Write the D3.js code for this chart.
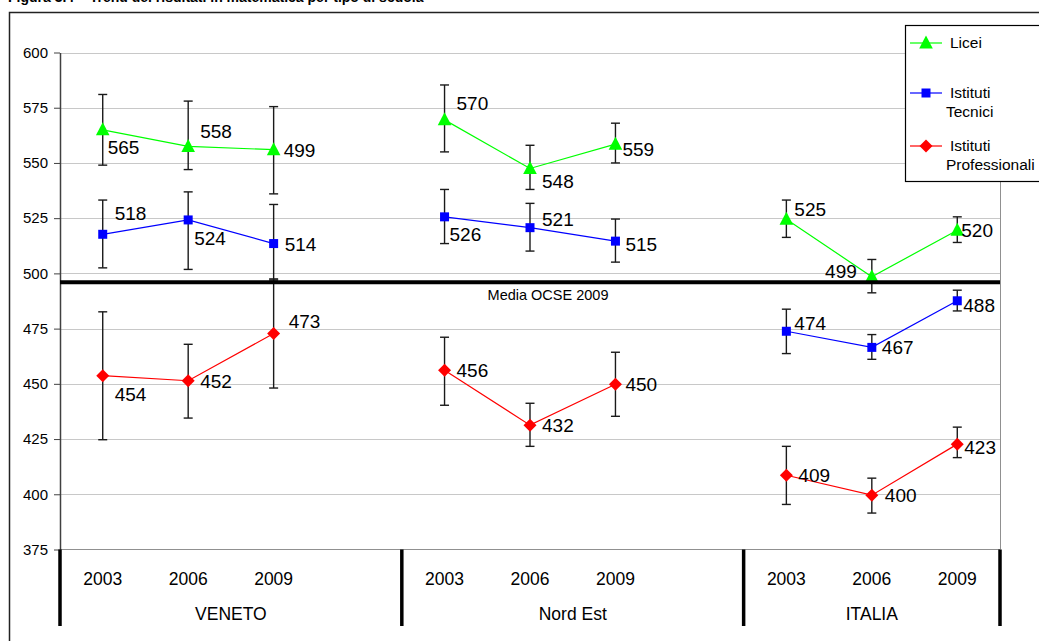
<!DOCTYPE html>
<html><head><meta charset="utf-8">
<script src="https://cdn.jsdelivr.net/npm/d3@7"></script>
<style>body{margin:0;background:#fff;} svg{display:block;font-family:Arial,"Liberation Sans",sans-serif;}</style>
</head><body><svg id="c" width="1039" height="641"></svg>
<script>
// ---------- data ----------
const groups = ["VENETO", "Nord Est", "ITALIA"];
const years = ["2003", "2006", "2009"];
const yTicks = [375, 400, 425, 450, 475, 500, 525, 550, 575, 600];
const oecdMean = 496;
const oecdLabel = "Media OCSE 2009";
const titleText = "Figura 3.4 – Trend dei risultati in matematica per tipo di scuola";

const seriesNames = ["Licei", "Istituti Tecnici", "Istituti Professionali"];
const liceiValues = [565, 557.5, 556, 569.5, 547.5, 558.5, 524.5, 498.5, 519.5];
const tecniciValues = [517.7, 524.2, 513.5, 525.6, 520.7, 514.6, 473.8, 466.5, 487.6];
const profValues = [453.7, 451.4, 472.8, 456.2, 431.3, 449.8, 408.6, 399.6, 422.7];

const liceiLabels = ["565", "558", "499", "570", "548", "559", "525", "499", "520"];
const tecniciLabels = ["518", "524", "514", "526", "521", "515", "474", "467", "488"];
const profLabels = ["454", "452", "473", "456", "432", "450", "409", "400", "423"];

const liceiLow = [549, 547, 536, 555, 538, 550, 516.3, 491.2, 514];
const liceiHigh = [581, 578, 575.5, 585.3, 558, 568, 533.2, 506.3, 525.6];
const tecniciLow = [502.5, 501.8, 497, 513.5, 510.1, 505.1, 463.7, 461.1, 483];
const tecniciHigh = [533.2, 536.9, 531.2, 538, 531.7, 524.6, 483.8, 472.3, 492.4];
const profLow = [424.7, 434.5, 448.1, 440.3, 421.7, 435.3, 395.4, 391.5, 416.6];
const profHigh = [482.6, 467.9, 497.5, 471.1, 441.2, 464.3, 421.7, 407.3, 430.4];

// ---------- styling / label placement ----------
const colors = ["#00ff00", "#0000ff", "#ff0000"];
const labelOffsets = [
  [[5, 24], [12, -8], [10, 7], [12, -10], [12, 20], [7, 12], [8, -3], [-15, 1], [4, 7]],
  [[12, -14], [6, 25], [11, 7], [5, 24], [12, -2], [10, 10], [8, -1], [10, 7], [6, 11]],
  [[12, 25], [12, 7], [15, -5], [12, 7], [12, 7], [10, 7], [12, 7], [13, 7], [7, 10]]
];
const labelAnchors = [
  ["start", "start", "start", "start", "start", "start", "start", "end", "start"],
  ["start", "start", "start", "start", "start", "start", "start", "start", "start"],
  ["start", "start", "start", "start", "start", "start", "start", "start", "start"]
];

// ---------- build ----------
const svg = d3.select("#c");
const W = 1039, H = 641;
const plot = { left: 60, right: 1000, top: 52.5, bottom: 549.5 };

// category slots (blank slot between groups)
const slotKeys = [];
groups.forEach((g, gi) => {
  years.forEach(y => slotKeys.push(g + "|" + y));
  if (gi < groups.length - 1) slotKeys.push("gap" + gi);
});
const x = d3.scaleBand().domain(slotKeys).range([plot.left, plot.right]).padding(0);
const y = d3.scaleLinear().domain([375, 600]).range([plot.bottom, plot.top]);
const pointKeys = [];
groups.forEach(g => years.forEach(yr => pointKeys.push(g + "|" + yr)));
const cx = i => x(pointKeys[i]) + x.bandwidth() / 2;

// outer frame
svg.append("path").attr("d", `M9.5,${H} V12.5 H${W}`).attr("fill", "none").attr("stroke", "#222").attr("stroke-width", 1.5);
svg.append("text").attr("x", 8).attr("y", 1.5).attr("font-size", 14).attr("font-weight", "bold").attr("fill", "#000").text(titleText);

// gridlines
svg.append("g").selectAll("line").data(yTicks.filter(t => t > 375)).join("line")
  .attr("x1", plot.left).attr("x2", plot.right)
  .attr("y1", d => Math.round(y(d)) + 0.5).attr("y2", d => Math.round(y(d)) + 0.5)
  .attr("stroke", "#c8c8c8").attr("stroke-width", 1);

// plot right border & bottom
svg.append("line").attr("x1", plot.right + 0.5).attr("x2", plot.right + 0.5).attr("y1", plot.top).attr("y2", plot.bottom)
  .attr("stroke", "#909090");
svg.append("line").attr("x1", plot.left).attr("x2", plot.right).attr("y1", plot.bottom).attr("y2", plot.bottom)
  .attr("stroke", "#909090");

// y axis
const yAxis = d3.axisLeft(y).tickValues(yTicks).tickSize(6).tickSizeOuter(0).tickPadding(6);
const ya = svg.append("g").attr("transform", `translate(${plot.left},0)`).call(yAxis);
ya.select(".domain").attr("stroke", "#404040").attr("stroke-width", 1.5);
ya.selectAll(".tick line").attr("stroke", "#404040");
ya.selectAll(".tick text").attr("font-size", 15).attr("font-family", "Arial,'Liberation Sans',sans-serif").attr("fill", "#000");

// category separators
const sepX = [plot.left];
groups.forEach((g, gi) => {
  sepX.push(gi < groups.length - 1 ? x("gap" + gi) + x.bandwidth() : plot.right);
});
svg.append("g").selectAll("line").data(sepX).join("line")
  .attr("x1", d => d).attr("x2", d => d).attr("y1", plot.bottom).attr("y2", 626)
  .attr("stroke", "#000").attr("stroke-width", 3.5);
// year labels
svg.append("g").selectAll("text").data(pointKeys).join("text")
  .attr("x", (d, i) => cx(i)).attr("y", 585).attr("text-anchor", "middle")
  .attr("font-size", 17.5).attr("fill", "#000").text(d => d.split("|")[1]);
// group labels (centred between separators)
svg.append("g").selectAll("text").data(groups).join("text")
  .attr("x", (g, gi) => (sepX[gi] + sepX[gi + 1]) / 2).attr("y", 620).attr("text-anchor", "middle")
  .attr("font-size", 17.5).attr("fill", "#000").text(d => d);

// series
const seriesVals = [liceiValues, tecniciValues, profValues];
const seriesLow = [liceiLow, tecniciLow, profLow];
const seriesHigh = [liceiHigh, tecniciHigh, profHigh];
const seriesLabels = [liceiLabels, tecniciLabels, profLabels];

// error bars
const eb = svg.append("g").attr("stroke", "#1a1a1a").attr("stroke-width", 1.4);
seriesVals.forEach((vals, s) => {
  vals.forEach((v, i) => {
    const px = cx(i), lo = y(seriesLow[s][i]), hi = y(seriesHigh[s][i]);
    eb.append("line").attr("x1", px).attr("x2", px).attr("y1", hi).attr("y2", lo);
    eb.append("line").attr("x1", px - 4.5).attr("x2", px + 4.5).attr("y1", hi).attr("y2", hi);
    eb.append("line").attr("x1", px - 4.5).attr("x2", px + 4.5).attr("y1", lo).attr("y2", lo);
  });
});

const line = d3.line().x(d => cx(d.i)).y(d => y(d.v));
const markerPath = [
  "M0,-7.5 L6.8,5.5 L-6.8,5.5 Z",
  "M-4.5,-4.5 H4.5 V4.5 H-4.5 Z",
  "M0,-6.5 L6.5,0 L0,6.5 L-6.5,0 Z"
];
seriesVals.forEach((vals, s) => {
  groups.forEach((g, gi) => {
    const pts = [0, 1, 2].map(k => ({ i: gi * 3 + k, v: vals[gi * 3 + k] }));
    svg.append("path").attr("d", line(pts)).attr("fill", "none").attr("stroke", colors[s]).attr("stroke-width", 1.2);
  });
});
seriesVals.forEach((vals, s) => {
  svg.append("g").selectAll("path").data(vals).join("path")
    .attr("transform", (v, i) => `translate(${cx(i)},${y(v)})`)
    .attr("d", markerPath[s]).attr("fill", colors[s]);
});

// OECD mean line
svg.append("line").attr("x1", plot.left).attr("x2", plot.right).attr("y1", y(oecdMean)).attr("y2", y(oecdMean))
  .attr("stroke", "#000").attr("stroke-width", 4);
svg.append("text").attr("x", 548).attr("y", 300).attr("text-anchor", "middle").attr("font-size", 14.5)
  .attr("fill", "#000").text(oecdLabel);

// data labels
seriesVals.forEach((vals, s) => {
  svg.append("g").selectAll("text").data(vals).join("text")
    .attr("x", (v, i) => cx(i) + labelOffsets[s][i][0])
    .attr("y", (v, i) => y(v) + labelOffsets[s][i][1])
    .attr("text-anchor", (v, i) => labelAnchors[s][i])
    .attr("font-size", 19).attr("fill", "#000")
    .text((v, i) => seriesLabels[s][i]);
});

// legend
const lg = svg.append("g");
lg.append("rect").attr("x", 905.5).attr("y", 25.5).attr("width", 140).attr("height", 156)
  .attr("fill", "#fff").attr("stroke", "#000").attr("stroke-width", 1.2);
const legendY = [43, 93, 146];
const legendLines = [["Licei"], ["Istituti", "Tecnici"], ["Istituti", "Professionali"]];
seriesNames.forEach((n, s) => {
  const ly = legendY[s];
  lg.append("line").attr("x1", 910).attr("x2", 942).attr("y1", ly).attr("y2", ly).attr("stroke", colors[s]).attr("stroke-width", 1.2);
  lg.append("path").attr("transform", `translate(926,${ly})`).attr("d", markerPath[s]).attr("fill", colors[s]);
  legendLines[s].forEach((t, k) => {
    lg.append("text").attr("x", k === 0 ? 950 : 946).attr("y", ly + 5 + k * 19)
      .attr("font-size", 15.5).attr("fill", "#000").text(t);
  });
});
</script></body></html>
